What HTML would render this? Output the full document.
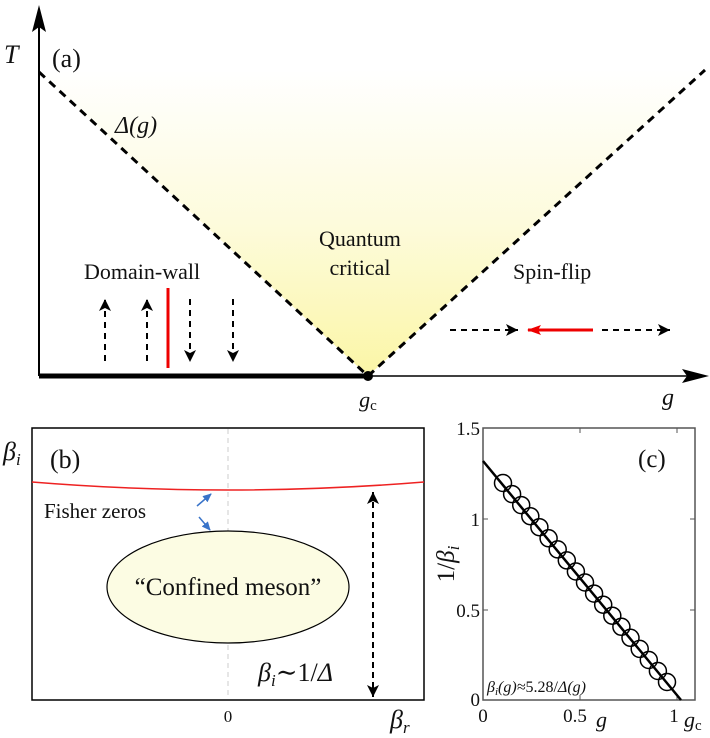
<!DOCTYPE html>
<html><head><meta charset="utf-8"><style>
html,body{margin:0;padding:0;background:#fff;}
svg{display:block;}
svg text{font-family:"Liberation Serif","DejaVu Serif","Times New Roman",serif !important;}
</style></head><body>
<svg width="710" height="738" viewBox="0 0 710 738" xmlns="http://www.w3.org/2000/svg" style="font-family:'Liberation Serif','DejaVu Serif',serif" fill="#111">
<defs>
<linearGradient id="yg" x1="0" y1="0" x2="0" y2="1">
<stop offset="0" stop-color="#ffffff"/>
<stop offset="0.5" stop-color="#fdfbdc"/>
<stop offset="1" stop-color="#fbf6a6"/>
</linearGradient>
<marker id="ah" markerWidth="12" markerHeight="14" refX="12" refY="7" orient="auto-start-reverse" markerUnits="userSpaceOnUse"><path d="M0,1 L12,7 L0,13 L3,7z" fill="#000" stroke="none"/></marker>
<marker id="ahr" markerWidth="14" markerHeight="10" refX="13" refY="5" orient="auto" markerUnits="userSpaceOnUse"><path d="M0,0 L14,5 L0,10 L3,5z" fill="#e00" stroke="none"/></marker>
<marker id="ahb" markerWidth="9" markerHeight="8" refX="8" refY="4" orient="auto" markerUnits="userSpaceOnUse"><path d="M0,0 L9,4 L0,8z" fill="#3a74c9" stroke="none"/></marker>
</defs>
<!-- panel a -->
<polygon points="39,72 368,376 705,70" fill="url(#yg)"/>
<line x1="39" y1="376" x2="39" y2="14" stroke="#000" stroke-width="2"/>
<path d="M39,5 L46,32 L39,27 L32,32z" fill="#000"/>
<line x1="39" y1="376" x2="700" y2="376" stroke="#000" stroke-width="1.5"/>
<path d="M709,376 L682,369 L687,376 L682,383z" fill="#000"/>
<line x1="39" y1="376" x2="368" y2="376" stroke="#000" stroke-width="5"/>
<circle cx="368" cy="376" r="5" fill="#000"/>
<polyline points="39,72 368,376 705,70" fill="none" stroke="#000" stroke-width="3" stroke-dasharray="8,6"/>
<text x="4" y="63" font-size="26" font-style="italic">T</text>
<text x="52" y="67" font-size="26">(a)</text>
<text x="115" y="133" font-size="24" font-style="italic">Δ(g)</text>
<text x="360" y="246" font-size="22" text-anchor="middle">Quantum</text>
<text x="360" y="275" font-size="22" text-anchor="middle">critical</text>
<text x="84" y="279" font-size="22">Domain-wall</text>
<text x="513" y="279" font-size="22">Spin-flip</text>
<text x="368" y="407" font-size="22" font-style="italic" text-anchor="middle">g<tspan font-size="15" font-style="normal" dy="3">c</tspan></text>
<text x="662" y="405" font-size="24" font-style="italic">g</text>
<g stroke="#000" stroke-width="2" stroke-dasharray="6,5">
<line x1="105" y1="361" x2="105" y2="299" marker-end="url(#ah)"/>
<line x1="147" y1="361" x2="147" y2="299" marker-end="url(#ah)"/>
<line x1="190" y1="299" x2="190" y2="362" marker-end="url(#ah)"/>
<line x1="233" y1="299" x2="233" y2="362" marker-end="url(#ah)"/>
<line x1="450" y1="330" x2="518" y2="330" marker-end="url(#ah)"/>
<line x1="602" y1="330" x2="670" y2="330" marker-end="url(#ah)"/>
</g>
<line x1="168" y1="288" x2="168" y2="368" stroke="#e00" stroke-width="3"/>
<line x1="593" y1="330" x2="528" y2="330" stroke="#e00" stroke-width="3" marker-end="url(#ahr)"/>
<!-- panel b -->
<rect x="32" y="428" width="392" height="272" fill="none" stroke="#000" stroke-width="1.5"/>
<line x1="228" y1="429" x2="228" y2="699" stroke="#ccc" stroke-width="1" stroke-dasharray="5,4"/>
<path d="M32,482 Q228,498 424,482" fill="none" stroke="#e22" stroke-width="1.5"/>
<ellipse cx="228" cy="587" rx="121" ry="56" fill="#fcfce3" stroke="#000" stroke-width="1.2"/>
<text x="228" y="595" font-size="25" text-anchor="middle">“Confined meson”</text>
<text x="44" y="518" font-size="21">Fisher zeros</text>
<line x1="197" y1="506" x2="211" y2="494" stroke="#3a74c9" stroke-width="1.5" marker-end="url(#ahb)"/>
<line x1="199" y1="517" x2="210" y2="530" stroke="#3a74c9" stroke-width="1.5" marker-end="url(#ahb)"/>
<line x1="373" y1="492" x2="373" y2="697" stroke="#000" stroke-width="2" stroke-dasharray="6,4" marker-start="url(#ah)" marker-end="url(#ah)"/>
<text x="258" y="681" font-size="26" font-style="italic">β<tspan font-size="17" dy="5">i</tspan><tspan dy="-5" font-style="normal">∼1/</tspan>Δ</text>
<text x="3" y="460" font-size="26" font-style="italic">β<tspan font-size="17" dy="5">i</tspan></text>
<text x="50" y="468" font-size="26">(b)</text>
<text x="228" y="722" font-size="17" text-anchor="middle">0</text>
<text x="390" y="728" font-size="26" font-style="italic">β<tspan font-size="17" dy="5">r</tspan></text>
<!-- panel c -->
<rect x="483" y="428" width="212" height="272" fill="none" stroke="#555" stroke-width="1.5"/>
<g stroke="#555" stroke-width="1">
<line x1="483" y1="519" x2="488" y2="519"/><line x1="483" y1="610" x2="488" y2="610"/>
<line x1="695" y1="519" x2="690" y2="519"/><line x1="695" y1="610" x2="690" y2="610"/>
<line x1="580" y1="700" x2="580" y2="695"/><line x1="677" y1="700" x2="677" y2="695"/>
<line x1="580" y1="428" x2="580" y2="433"/><line x1="677" y1="428" x2="677" y2="433"/>
</g>
<line x1="483" y1="461" x2="681" y2="700" stroke="#000" stroke-width="2.5"/>
<g fill="none" stroke="#000" stroke-width="1.5">
<circle cx="503" cy="483" r="8.5"/><circle cx="512.1" cy="494.1" r="8.5"/><circle cx="521.2" cy="505.1" r="8.5"/><circle cx="530.3" cy="516.2" r="8.5"/><circle cx="539.4" cy="527.2" r="8.5"/><circle cx="548.6" cy="538.3" r="8.5"/><circle cx="557.7" cy="549.4" r="8.5"/><circle cx="566.8" cy="560.4" r="8.5"/><circle cx="575.9" cy="571.5" r="8.5"/><circle cx="585" cy="582.5" r="8.5"/><circle cx="594.1" cy="593.6" r="8.5"/><circle cx="603.2" cy="604.7" r="8.5"/><circle cx="612.3" cy="615.7" r="8.5"/><circle cx="621.4" cy="626.8" r="8.5"/><circle cx="630.5" cy="637.8" r="8.5"/><circle cx="639.7" cy="648.9" r="8.5"/><circle cx="648.8" cy="660" r="8.5"/><circle cx="657.9" cy="671" r="8.5"/><circle cx="667" cy="682" r="8.5"/>
</g>
<text x="480" y="435" font-size="19" text-anchor="end">1.5</text>
<text x="480" y="526" font-size="19" text-anchor="end">1</text>
<text x="480" y="617" font-size="19" text-anchor="end">0.5</text>
<text x="480" y="706" font-size="19" text-anchor="end">0</text>
<text x="483" y="722" font-size="19" text-anchor="middle">0</text>
<text x="575" y="722" font-size="19" text-anchor="middle">0.5</text>
<text x="596" y="727" font-size="22" font-style="italic">g</text>
<text x="674" y="722" font-size="19" text-anchor="middle">1</text>
<text x="684" y="727" font-size="22" font-style="italic">g<tspan font-size="15" font-style="normal" dy="3">c</tspan></text>
<text x="638" y="467" font-size="25">(c)</text>
<text x="487" y="692" font-size="16" font-style="italic">β<tspan font-size="11" dy="3">i</tspan><tspan dy="-3">(g)≈</tspan><tspan font-style="normal">5.28/</tspan>Δ(g)</text>
<text transform="translate(454,564) rotate(-90)" font-size="25" text-anchor="middle">1/<tspan font-style="italic">β</tspan><tspan font-size="17" font-style="italic" dy="5">i</tspan></text>
</svg>
</body></html>
